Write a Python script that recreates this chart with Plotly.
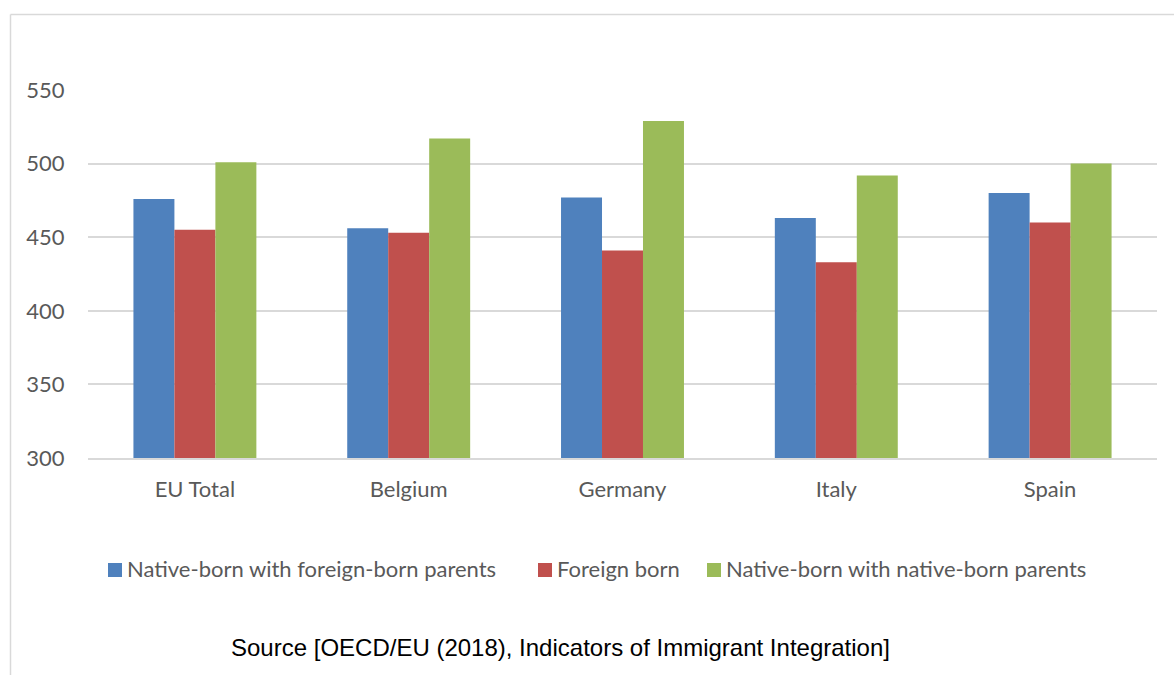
import plotly.graph_objects as go

categories = ["EU Total", "Belgium", "Germany", "Italy", "Spain"]
native_foreign_parents = [476, 456, 477, 463, 480]
foreign_born = [455, 453, 441, 433, 460]
native_native_parents = [501, 517, 529, 492, 500]
series_names = ["Native-born with foreign-born parents", "Foreign born",
                "Native-born with native-born parents"]
colors = ["#4F81BD", "#C0504D", "#9BBB59"]
series_values = [native_foreign_parents, foreign_born, native_native_parents]

FONT = "Lato"
FS = 22
W, H = 1174, 675
L, R, T, B = 88, 17, 90, 217
pw, ph = W - L - R, H - T - B

def px(x):
    return (x - L) / pw

def py(y):
    return (H - B - y) / ph

fig = go.Figure()
for name, vals, col in zip(series_names, series_values, colors):
    fig.add_trace(go.Bar(x=categories, y=vals, name=name, marker_color=col,
                         marker_line_width=0, showlegend=False))

# custom legend (squares + labels) positioned like the reference
legend_sq_x = [108, 538, 707]
shapes = [
    dict(type="line", xref="paper", yref="paper", x0=px(10.5), x1=px(1174),
         y0=py(14.5), y1=py(14.5), line=dict(color="#D9D9D9", width=1.5)),
    dict(type="line", xref="paper", yref="paper", x0=px(10.5), x1=px(10.5),
         y0=py(14.5), y1=py(675), line=dict(color="#D9D9D9", width=1.5)),
]
annotations = [
    dict(text="Source [OECD/EU (2018), Indicators of Immigrant Integration]",
         xref="paper", yref="paper", x=px(560), y=py(647), xanchor="center",
         yanchor="middle", showarrow=False,
         font=dict(family="Liberation Sans", size=24, color="black")),
]
for sx, name, col in zip(legend_sq_x, series_names, colors):
    shapes.append(dict(type="rect", xref="paper", yref="paper",
                       x0=px(sx), x1=px(sx + 14), y0=py(577), y1=py(563),
                       fillcolor=col, line=dict(width=0)))
    annotations.append(dict(text=name, xref="paper", yref="paper",
                            x=px(sx + 17), y=py(568), xanchor="left", yanchor="middle",
                            showarrow=False,
                            font=dict(family=FONT, size=FS, color="#595959")))

fig.update_layout(
    width=W, height=H,
    margin=dict(l=L, r=R, t=T, b=B),
    paper_bgcolor="white", plot_bgcolor="white",
    barmode="group", bargap=0.425, bargroupgap=0,
    font=dict(family=FONT, color="#595959", size=FS),
    showlegend=False,
    xaxis=dict(showline=True, linecolor="#D9D9D9", linewidth=1.5,
               ticks="outside", ticklen=11, tickcolor="rgba(0,0,0,0)",
               tickfont=dict(size=FS, color="#595959", family=FONT)),
    yaxis=dict(range=[300, 550], dtick=50, showgrid=True, gridcolor="#D9D9D9",
               gridwidth=1.5, zeroline=False, showline=False,
               ticks="outside", ticklen=18, tickcolor="rgba(0,0,0,0)",
               tickfont=dict(size=FS, color="#595959", family=FONT)),
    shapes=shapes,
    annotations=annotations,
)

fig.write_html("out.html")
